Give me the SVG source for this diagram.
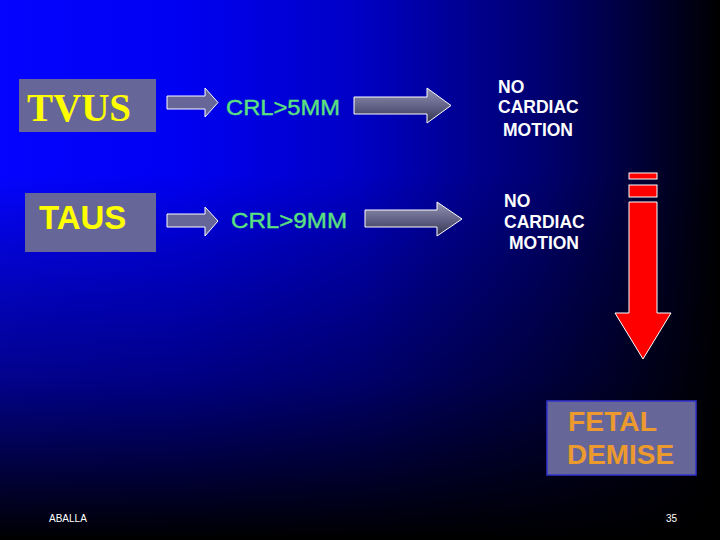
<svg xmlns="http://www.w3.org/2000/svg" width="720" height="540" viewBox="0 0 720 540">
  <defs>
    <linearGradient id="bgH" gradientUnits="userSpaceOnUse" x1="0" y1="0" x2="720" y2="0">
      <stop offset="0" stop-color="#0404ff"/>
      <stop offset="0.25" stop-color="#0000f2"/>
      <stop offset="0.5" stop-color="#0000c4"/>
      <stop offset="0.62" stop-color="#00009a"/>
      <stop offset="0.75" stop-color="#000070"/>
      <stop offset="0.84" stop-color="#00004c"/>
      <stop offset="0.94" stop-color="#00001e"/>
      <stop offset="1" stop-color="#000000"/>
    </linearGradient>
    <linearGradient id="bgV" gradientUnits="userSpaceOnUse" x1="0" y1="0" x2="0" y2="540">
      <stop offset="0" stop-color="#000000" stop-opacity="0"/>
      <stop offset="0.32" stop-color="#000000" stop-opacity="0"/>
      <stop offset="0.46" stop-color="#000000" stop-opacity="0.18"/>
      <stop offset="0.7" stop-color="#000000" stop-opacity="0.45"/>
      <stop offset="0.85" stop-color="#000000" stop-opacity="0.72"/>
      <stop offset="1" stop-color="#000000" stop-opacity="1"/>
    </linearGradient>
    <linearGradient id="bigArrow" x1="0" y1="0" x2="0" y2="1">
      <stop offset="0" stop-color="#9494b4"/>
      <stop offset="0.5" stop-color="#646488"/>
      <stop offset="1" stop-color="#343450"/>
    </linearGradient>
    <style>
      .box { fill: #666699; }
      .small { fill: #666699; stroke: #ffffff; stroke-width: 1; }
      .big { fill: url(#bigArrow); stroke: #ffffff; stroke-width: 1; }
      .crl { font-family: "Liberation Sans", Arial, sans-serif; font-size: 22px; fill: #5ce080; stroke: #5ce080; stroke-width: 0.4; }
      .nc { font-family: "Liberation Sans", Arial, sans-serif; font-size: 17.5px; font-weight: bold; fill: #ffffff; }
      .fd { font-family: "Liberation Sans", Arial, sans-serif; font-size: 27.5px; font-weight: bold; fill: #ec9a2e; }
      .foot { font-family: "Liberation Sans", Arial, sans-serif; font-size: 10px; fill: #ffffff; }
      .red { fill: #ff0000; stroke: #ffffff; stroke-width: 1; }
    </style>
  </defs>

  <rect x="0" y="0" width="720" height="540" fill="url(#bgH)"/>
  <rect x="0" y="0" width="720" height="540" fill="url(#bgV)"/>

  <g id="tvus">
    <rect class="box" x="19" y="79" width="137" height="53"/>
    <text x="27" y="121" font-family="'Liberation Serif', 'Times New Roman', serif" font-weight="bold" font-size="41" fill="#ffff00" textLength="104" lengthAdjust="spacingAndGlyphs">TVUS</text>
  </g>

  <g id="taus">
    <rect class="box" x="25" y="193" width="131" height="59"/>
    <text x="39" y="229" font-family="'Liberation Sans', Arial, sans-serif" font-weight="bold" font-size="33" fill="#ffff00">TAUS</text>
  </g>

  <g id="crl5">
    <text class="crl" x="226" y="115" textLength="114" lengthAdjust="spacingAndGlyphs">CRL&gt;5MM</text>
  </g>

  <g id="crl9">
    <text class="crl" x="231" y="228" textLength="116" lengthAdjust="spacingAndGlyphs">CRL&gt;9MM</text>
  </g>

  <g id="ncm1">
    <text class="nc" x="498" y="93">NO</text>
    <text class="nc" x="498" y="113">CARDIAC</text>
    <text class="nc" x="503" y="136">MOTION</text>
  </g>

  <g id="ncm2">
    <text class="nc" x="504" y="207">NO</text>
    <text class="nc" x="504" y="228">CARDIAC</text>
    <text class="nc" x="509" y="249">MOTION</text>
  </g>

  <g id="fetal-demise">
    <rect x="547" y="401" width="149" height="74" fill="#666699" stroke="#3333d0" stroke-width="1.5"/>
    <text class="fd" x="568" y="431" textLength="89" lengthAdjust="spacingAndGlyphs">FETAL</text>
    <text class="fd" x="567" y="464" textLength="107" lengthAdjust="spacingAndGlyphs">DEMISE</text>
  </g>

  <g id="connectors">
    <polygon class="small" points="167,96 205,96 205,88 218,102.5 205,117 205,109 167,109"/>
    <polygon class="small" points="167,214 205,214 205,207 218,221 205,236 205,227 167,227"/>
    <polygon class="big" points="354,97 427,97 427,88 451,105.5 427,123 427,114 354,114"/>
    <polygon class="big" points="365,210 437,210 437,202 462,219 437,236 437,227 365,227"/>
    <rect class="red" x="629" y="173" width="28" height="6"/>
    <rect class="red" x="629" y="185" width="28" height="12"/>
    <polygon class="red" points="629,202 657,202 657,313 671,313 643,359 615,313 629,313"/>
  </g>

  <text class="foot" x="49" y="522">ABALLA</text>
  <text class="foot" x="666" y="522">35</text>
</svg>
